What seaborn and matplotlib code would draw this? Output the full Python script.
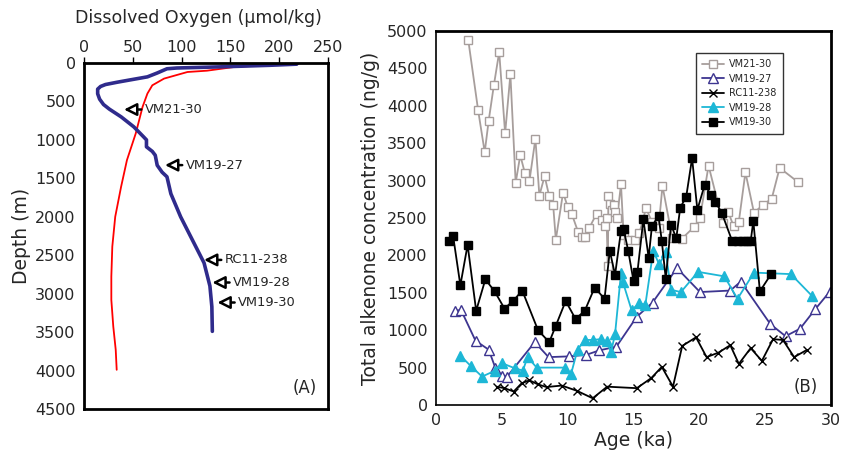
import numpy as np
import pandas as pd
import matplotlib
matplotlib.use("Agg")
import matplotlib.pyplot as plt
from matplotlib.lines import Line2D
import seaborn as sns

# --- PANEL A: dissolved oxygen profiles (O2 in umol/kg, depth in m) ---
blue_o2 = [218, 190, 140, 95, 85, 75, 65, 45, 34, 22, 17, 14, 14, 16, 20, 26, 38, 51, 61,
           64, 64, 70, 73, 75, 80, 85, 89, 99, 113, 123, 129, 131, 131.5]
blue_depth = [15, 30, 50, 65, 75, 130, 180, 225, 250, 280, 305, 340, 400, 470, 540, 600, 700,
              830, 960, 1000, 1090, 1150, 1200, 1330, 1420, 1480, 1700, 2000, 2350, 2600,
              2900, 3170, 3490]
red_o2 = [219, 185, 155, 126, 106, 82, 70, 65, 60, 53, 44, 38, 32, 29, 28, 28, 30, 32.5, 33.5]
red_depth = [15, 30, 50, 100, 117, 203, 290, 397, 571, 917, 1263, 1610, 1999, 2388, 2778,
             3080, 3427, 3730, 3990]

core_names = ["VM21-30", "VM19-27", "RC11-238", "VM19-28", "VM19-30"]
core_tip_o2 = [41, 83, 123, 131.5, 136.7]
core_tip_depth = [605, 1328, 2561, 2855, 3115]

# --- PANEL B: alkenone concentration (ng/g) vs age (ka) ---
vm2130_age = [2.45, 3.2, 3.7, 4.0, 4.4, 4.8, 5.25, 5.65, 6.05, 6.4, 6.75, 7.1, 7.55, 7.85,
              8.25, 8.6, 8.9, 9.1, 9.65, 10.0, 10.3, 10.8, 11.1, 11.35, 11.65, 12.2, 12.6,
              12.85, 12.95, 13.05, 13.1, 13.2, 13.35, 13.5, 13.6, 13.75, 14.05, 14.25, 14.6,
              15.1, 15.45, 15.95, 16.4, 16.9, 17.2, 17.95, 18.65, 19.6, 20.05, 20.7, 21.8,
              22.2, 22.6, 23.0, 23.5, 24.15, 24.8, 25.5, 26.1, 27.5]
vm2130_conc = [4880, 3940, 3380, 3800, 4280, 4720, 3630, 4420, 2970, 3340, 3100, 3000, 3560,
               2800, 3060, 2790, 2670, 2210, 2840, 2650, 2560, 2310, 2240, 2240, 2370, 2560,
               2470, 2390, 2500, 1860, 2800, 2690, 2610, 2680, 2580, 2500, 2950, 2270, 2210,
               2210, 2300, 2630, 2450, 2360, 2930, 2230, 2220, 2380, 2500, 3200, 2430, 2580,
               2390, 2450, 3110, 2570, 2670, 2760, 3170, 2980]

vm1927_age = [1.45, 1.9, 3.0, 4.0, 4.5, 5.0, 5.4, 7.5, 8.55, 10.1, 11.4, 12.4, 13.7, 15.25,
              16.45, 18.3, 20.05, 22.35, 23.15, 25.4, 26.55, 27.65, 28.8, 29.9]
vm1927_conc = [1260, 1270, 860, 740, 500, 390, 380, 840, 640, 650, 670, 730, 780, 1180,
               1370, 1830, 1510, 1530, 1650, 1080, 920, 1020, 1280, 1515]

rc11_age = [4.6, 5.2, 5.9, 6.5, 7.1, 7.75, 8.4, 9.55, 10.7, 11.9, 13.0, 15.25, 16.35, 17.15,
            18.0, 18.7, 19.75, 20.55, 21.45, 22.35, 23.0, 23.9, 24.75, 25.6, 26.35, 27.2,
            28.15]
rc11_conc = [245, 225, 180, 290, 330, 275, 240, 260, 190, 90, 245, 225, 360, 510, 245, 790,
             905, 640, 700, 800, 550, 760, 590, 880, 870, 640, 735]

vm1928_age = [1.85, 2.65, 3.5, 4.5, 5.0, 6.0, 6.6, 6.95, 7.65, 9.8, 10.25, 10.75, 11.3, 11.9,
              12.5, 12.95, 13.3, 13.6, 14.05, 14.2, 14.85, 15.45, 15.9, 16.5, 16.95, 17.45,
              17.85, 18.6, 19.9, 21.9, 22.9, 24.15, 26.95, 28.55]
vm1928_conc = [660, 520, 380, 460, 560, 490, 460, 640, 500, 500, 410, 740, 870, 870, 880, 850,
               710, 950, 1760, 1640, 1270, 1360, 1340, 2060, 1880, 2040, 1540, 1510, 1780,
               1720, 1420, 1770, 1750, 1460]

vm1930_age = [1.0, 1.3, 1.85, 2.4, 3.05, 3.75, 4.45, 5.2, 5.85, 6.55, 7.75, 8.6, 9.1, 9.85,
              10.6, 11.3, 12.05, 12.8, 13.2, 13.6, 14.05, 14.25, 14.6, 15.0, 15.3, 15.75,
              16.15, 16.4, 16.9, 17.15, 17.45, 17.85, 18.25, 18.55, 19.0, 19.45, 19.85, 20.4,
              20.9, 21.2, 21.7, 22.5, 22.9, 23.3, 23.6, 23.9, 24.1, 24.6, 25.45]
vm1930_conc = [2190, 2260, 1600, 2140, 1260, 1680, 1520, 1290, 1390, 1530, 1000, 840, 1060,
               1390, 1150, 1260, 1570, 1420, 2060, 1740, 2330, 2350, 2060, 1660, 1780, 2480,
               1970, 2390, 2530, 2190, 1690, 2410, 2230, 2640, 2780, 3300, 2610, 2940, 2810,
               2720, 2570, 2190, 2190, 2190, 2190, 2190, 2460, 1520, 1750]

# series styles (colour, marker, filled?)
SERIES = [
    ("VM21-30", vm2130_age, vm2130_conc, "#a79e9c", "s", False),
    ("VM19-27", vm1927_age, vm1927_conc, "#3d3590", "^", False),
    ("RC11-238", rc11_age, rc11_conc, "#000000", "x", True),
    ("VM19-28", vm1928_age, vm1928_conc, "#1db7d6", "^", True),
    ("VM19-30", vm1930_age, vm1930_conc, "#000000", "s", True),
]

sns.set_style("white")
plt.rcParams['font.family'] = ['DejaVu Sans']

fig = plt.figure(figsize=(8.46, 4.58), dpi=100)
axA = fig.add_axes([84 / 846, 1 - 409 / 458, 244 / 846, 346 / 458])
axB = fig.add_axes([436 / 846, 1 - 405 / 458, 395 / 846, 374 / 458])

# ---------------- Panel A ----------------
sns.lineplot(x=red_o2, y=red_depth, sort=False, estimator=None, color="#ff0000",
             lw=1.3, ax=axA)
sns.lineplot(x=blue_o2, y=blue_depth, sort=False, estimator=None, color="#2f2b8c",
             lw=2.6, ax=axA)
axA.set_xlim(0, 250)
axA.set_ylim(4500, 0)
axA.set_xticks(np.arange(0, 251, 50))
axA.set_yticks(np.arange(0, 4501, 500))
axA.xaxis.tick_top()
axA.xaxis.set_label_position("top")
axA.set_xlabel("Dissolved Oxygen (µmol/kg)", fontsize=12.5, labelpad=6)
axA.xaxis.set_label_coords(0.47, 1.115)
axA.set_ylabel("Depth (m)", fontsize=13.5, labelpad=3)
axA.tick_params(axis="both", labelsize=11.5, length=4, width=1, direction="out",
                color="black", pad=2)
for sp in axA.spines.values():
    sp.set_linewidth(2)
    sp.set_color("black")

for name, o2, d in zip(core_names, core_tip_o2, core_tip_depth):
    axA.annotate(name, xy=(o2, d), xytext=(o2 + 21, d), va="center", ha="left",
                 fontsize=9.4,
                 arrowprops=dict(arrowstyle="-|>,head_length=0.8,head_width=0.4",
                                 fc="white", ec="black", lw=1.8,
                                 shrinkA=0, shrinkB=0))
axA.text(0.955, 0.06, "(A)", transform=axA.transAxes, ha="right", va="center",
         fontsize=12)

# ---------------- Panel B ----------------
handles = []
for name, age, conc, col, mk, filled in SERIES:
    df = pd.DataFrame({"age": age, "conc": conc})
    fc = col if filled else "white"
    ms = 6.5 if mk == "^" else 6
    sns.lineplot(data=df, x="age", y="conc", estimator=None, color=col, lw=1.3,
                 marker=mk, markersize=ms, markerfacecolor=fc, markeredgecolor=col,
                 markeredgewidth=1.0, ax=axB)
    handles.append(Line2D([], [], color=col, lw=1.3, marker=mk, markersize=ms,
                          markerfacecolor=fc, markeredgecolor=col, label=name))

axB.set_xlim(0, 30)
axB.set_ylim(0, 5000)
axB.set_xticks(np.arange(0, 31, 5))
axB.set_yticks(np.arange(0, 5001, 500))
axB.set_xlabel("Age (ka)", fontsize=13.5, labelpad=2)
axB.set_ylabel("Total alkenone concentration (ng/g)", fontsize=13.5, labelpad=5)
axB.tick_params(axis="both", labelsize=11.5, length=4, width=1, direction="out",
                color="black", pad=2)
for side, sp in axB.spines.items():
    sp.set_color("black")
    sp.set_linewidth(2 if side in ("top", "right") else 1.2)

leg = axB.legend(handles=handles, loc="upper left", bbox_to_anchor=(0.645, 0.955),
                 fontsize=7, frameon=True, fancybox=False, handlelength=2.2,
                 labelspacing=0.45, borderpad=0.7, handletextpad=0.5)
leg.get_frame().set_edgecolor("black")
leg.get_frame().set_linewidth(1)

axB.text(0.935, 0.047, "(B)", transform=axB.transAxes, ha="center", va="center",
         fontsize=12)

fig.savefig("out.png", dpi=100)
